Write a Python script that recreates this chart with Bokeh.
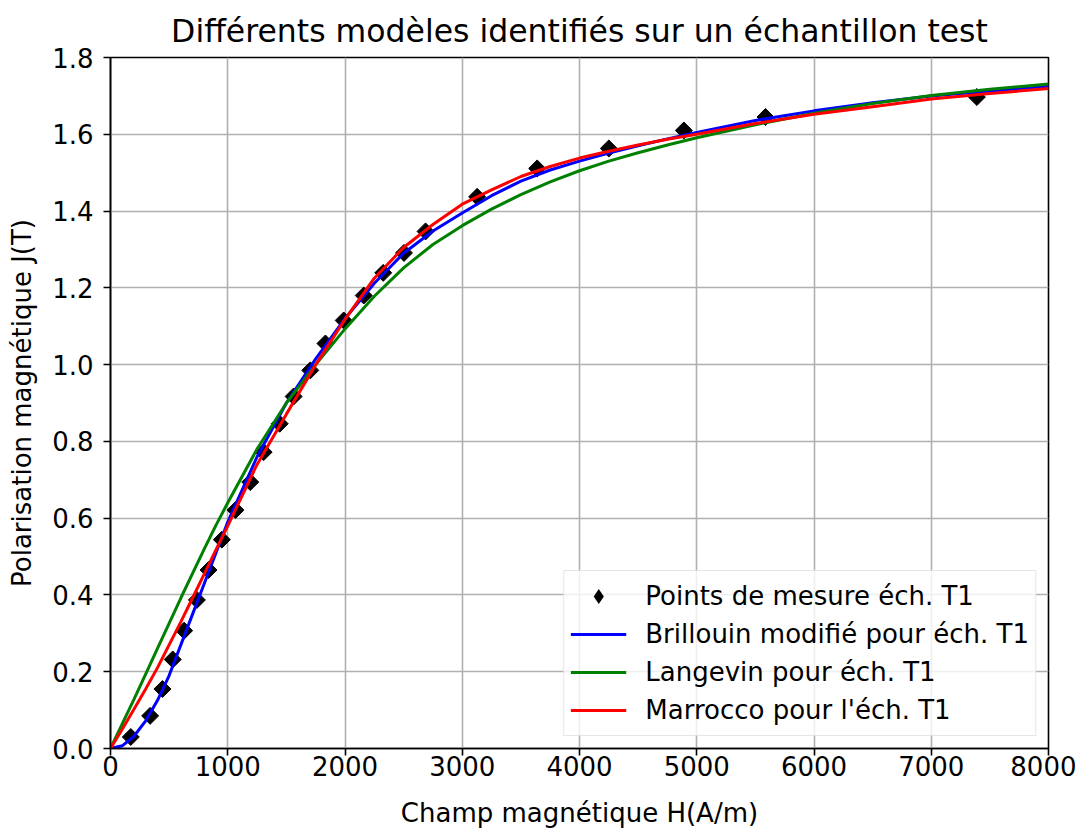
import math
from bokeh.plotting import figure
from bokeh.models import FixedTicker, Legend, LegendItem, Range1d
from bokeh.embed import file_html
from bokeh.resources import INLINE

FONT = "DejaVu Sans"

title_text = "Différents modèles identifiés sur un échantillon test"
x_label = "Champ magnétique H(A/m)"
y_label = "Polarisation magnétique J(T)"

x_ticks = [0, 1000, 2000, 3000, 4000, 5000, 6000, 7000, 8000]
x_tick_labels = ["0", "1000", "2000", "3000", "4000", "5000", "6000", "7000", "8000"]
y_ticks = [0.0, 0.2, 0.4, 0.6, 0.8, 1.0, 1.2, 1.4, 1.6, 1.8]
y_tick_labels = ["0.0", "0.2", "0.4", "0.6", "0.8", "1.0", "1.2", "1.4", "1.6", "1.8"]

# measured points
mesure_H = [173, 338, 443, 531, 628, 737, 836, 950, 1066, 1192, 1306, 1443, 1562,
            1704, 1833, 1989, 2160, 2326, 2503, 2687, 3127, 3639, 4250, 4890, 5586, 7389]
mesure_J = [0.030, 0.085, 0.155, 0.232, 0.307, 0.387, 0.465, 0.544, 0.621, 0.694, 0.772,
            0.846, 0.917, 0.985, 1.055, 1.115, 1.180, 1.239, 1.291, 1.347, 1.437, 1.511,
            1.563, 1.610, 1.645, 1.697]

# model curves
model_H = [0, 100, 200, 300, 400, 500, 600, 700, 800, 900, 1000, 1250, 1500, 1750, 2000,
           2250, 2500, 2750, 3000, 3250, 3500, 3750, 4000, 4250, 4500, 4750, 5000,
           5500, 6000, 6500, 7000, 7500, 8000]
brillouin_J = [0, 0.007, 0.032, 0.072, 0.125, 0.19, 0.27, 0.35, 0.43, 0.51, 0.59, 0.76, 0.90,
               1.015, 1.12, 1.212, 1.29, 1.348, 1.395, 1.44, 1.478, 1.507, 1.53, 1.551,
               1.57, 1.588, 1.605, 1.636, 1.661, 1.682, 1.700, 1.713, 1.725]
langevin_J = [0, 0.064, 0.128, 0.194, 0.26, 0.326, 0.392, 0.456, 0.52, 0.582, 0.64, 0.78,
              0.90, 1.0, 1.093, 1.178, 1.252, 1.313, 1.362, 1.405, 1.443, 1.476, 1.505, 1.53,
              1.552, 1.572, 1.591, 1.625, 1.655, 1.68, 1.701, 1.717, 1.731]
marrocco_J = [0, 0.05, 0.102, 0.155, 0.21, 0.27, 0.33, 0.392, 0.455, 0.518, 0.58, 0.74, 0.871,
              1.0, 1.118, 1.225, 1.305, 1.365, 1.418, 1.455, 1.49, 1.516, 1.538, 1.556,
              1.572, 1.587, 1.600, 1.628, 1.652, 1.672, 1.692, 1.706, 1.719]

labels = ["Points de mesure éch. T1", "Brillouin modifié pour éch. T1",
          "Langevin pour éch. T1", "Marrocco pour l'éch. T1"]

p = figure(width=1076, height=830, x_range=Range1d(0, 8000), y_range=Range1d(0, 1.8),
           output_backend="svg", toolbar_location=None, title=title_text,
           min_border_left=110, min_border_right=28, min_border_top=57, min_border_bottom=80)

p.title.align = "center"
p.title.text_font = FONT
p.title.text_font_size = "31.5px"
p.title.text_font_style = "normal"
p.title.text_color = "black"
p.title.standoff = 18

p.outline_line_color = "black"
p.outline_line_width = 1.6

for ax, ticks, labs, lab in ((p.xaxis[0], x_ticks, x_tick_labels, x_label),
                             (p.yaxis[0], y_ticks, y_tick_labels, y_label)):
    ax.ticker = FixedTicker(ticks=ticks)
    ax.major_label_overrides = {t: s for t, s in zip(ticks, labs)}
    ax.axis_label = lab
    ax.axis_label_text_font = FONT
    ax.axis_label_text_font_size = "26px"
    ax.axis_label_text_font_style = "normal"
    ax.axis_label_text_color = "black"
    ax.major_label_text_font = FONT
    ax.major_label_text_font_size = "26px"
    ax.major_label_text_color = "black"
    ax.axis_line_color = "black"
    ax.axis_line_width = 1.6
    ax.major_tick_line_color = "black"
    ax.major_tick_line_width = 1.6
    ax.major_tick_out = 7
    ax.major_tick_in = 0
    ax.minor_tick_line_color = None

p.xaxis.major_label_standoff = 0
p.yaxis.major_label_standoff = 10
p.xaxis.axis_label_standoff = 19
p.yaxis.axis_label_standoff = 12

p.grid.grid_line_color = "#b0b0b0"
p.grid.grid_line_width = 1.6

r_pts = p.scatter(mesure_H, mesure_J, marker="square", angle=math.pi / 4, size=12,
                  fill_color="black", line_color="black")
# zero-size companion used only for the legend symbol (diamond)
r_pts_leg = p.scatter(mesure_H, mesure_J, marker="diamond", size=0,
                      fill_color="black", line_color=None)
r_b = p.line(model_H, brillouin_J, line_color="#0000ff", line_width=3)
r_l = p.line(model_H, langevin_J, line_color="#008000", line_width=3)
r_m = p.line(model_H, marrocco_J, line_color="#ff0000", line_width=3)

legend = Legend(items=[LegendItem(label=labels[0], renderers=[r_pts_leg]),
                       LegendItem(label=labels[1], renderers=[r_b]),
                       LegendItem(label=labels[2], renderers=[r_l]),
                       LegendItem(label=labels[3], renderers=[r_m])],
                location="bottom_right")
legend.label_text_font = FONT
legend.label_text_font_size = "26px"
legend.label_text_color = "black"
legend.glyph_width = 56
legend.glyph_height = 38
legend.label_height = 20
legend.spacing = 0
legend.padding = 6
legend.margin = 12
legend.label_standoff = 19
legend.border_line_color = "#cccccc"
legend.border_line_width = 1.5
legend.background_fill_color = "white"
legend.background_fill_alpha = 0.8
p.add_layout(legend)

open("out.html", "w").write(file_html(p, INLINE))
